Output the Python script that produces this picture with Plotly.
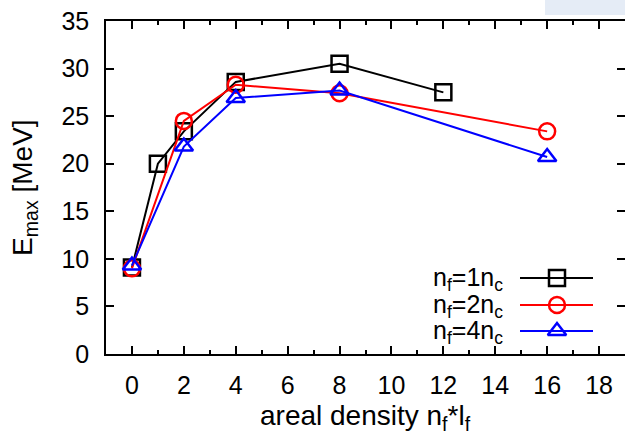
import plotly.graph_objects as go

# ---- data ----
series_names = ["n<sub>f</sub>=1n<sub>c</sub>", "n<sub>f</sub>=2n<sub>c</sub>", "n<sub>f</sub>=4n<sub>c</sub>"]
x_nf1 = [0, 1, 2, 4, 8, 12]
y_nf1 = [9.1, 20.0, 23.4, 28.6, 30.5, 27.5]
x_nf2 = [0, 2, 4, 8, 16]
y_nf2 = [9.0, 24.5, 28.3, 27.4, 23.4]
x_nf4 = [0, 2, 4, 8, 16]
y_nf4 = [9.3, 21.8, 26.9, 27.7, 20.7]
x_ticks = [0, 2, 4, 6, 8, 10, 12, 14, 16, 18]
y_ticks = [0, 5, 10, 15, 20, 25, 30, 35]

colors = ["#000000", "#ff0000", "#0000ff"]
symbols = ["square-open", "circle-open", "triangle-up-open"]
sizes = [16, 16, 16]

FONT = "Liberation Sans, Arial, sans-serif"
W, H = 625, 436
ML, MR, MT, MB = 106, 0, 21, 82
PW, PH = W - ML - MR, H - MT - MB


def px_to_paper_x(px):
    return (px - ML) / PW


def px_to_paper_y(py):
    return (H - MB - py) / PH


fig = go.Figure()
data = [(x_nf1, y_nf1), (x_nf2, y_nf2), (x_nf4, y_nf4)]
for (xs, ys), c, s, sz, nm in zip(data, colors, symbols, sizes, series_names):
    fig.add_trace(go.Scatter(
        x=xs, y=ys, mode="lines+markers", name=nm, showlegend=False,
        line=dict(color=c, width=2),
        marker=dict(symbol=s, size=sz, color=c, line=dict(color=c, width=2.5)),
    ))

# ---- manual gnuplot-style key (text left, sample right) ----
key_rows_px = [278, 305, 331]
for ypx, c, s, sz, nm in zip(key_rows_px, colors, symbols, sizes, series_names):
    yk = px_to_paper_y(ypx)
    fig.add_trace(go.Scatter(
        x=[px_to_paper_x(520), px_to_paper_x(593)], y=[yk, yk], mode="lines",
        xaxis="x2", yaxis="y2",
        line=dict(color=c, width=2), showlegend=False, hoverinfo="skip"))
    fig.add_trace(go.Scatter(
        x=[px_to_paper_x(557)], y=[yk], mode="markers", xaxis="x2", yaxis="y2",
        marker=dict(symbol=s, size=sz, color=c, line=dict(color=c, width=2.5)),
        showlegend=False, hoverinfo="skip"))
    fig.add_annotation(x=px_to_paper_x(505), y=px_to_paper_y(ypx + 1), xref="paper", yref="paper",
                       text=nm, showarrow=False, xanchor="right", yanchor="middle",
                       font=dict(family=FONT, size=25, color="black"))

# axis titles as annotations
fig.add_annotation(x=0.5, y=px_to_paper_y(417), xref="paper", yref="paper",
                   text="areal density n<sub>f</sub>*l<sub>f</sub>", showarrow=False,
                   xanchor="center", yanchor="middle",
                   font=dict(family=FONT, size=28, color="black"))
fig.add_annotation(x=px_to_paper_x(24), y=px_to_paper_y(188), xref="paper", yref="paper",
                   text="E<sub>max</sub> [MeV]", showarrow=False, textangle=-90,
                   xanchor="center", yanchor="middle",
                   font=dict(family=FONT, size=28, color="black"))

axis_common = dict(
    showline=True, linecolor="black", linewidth=1.5, mirror="ticks",
    ticks="inside", ticklen=8, tickwidth=1.5, tickcolor="black",
    showgrid=False, zeroline=False, automargin=False,
    tickfont=dict(family=FONT, size=25, color="black"),
)

fig.update_layout(
    width=W, height=H,
    margin=dict(l=ML, r=MR, t=MT, b=MB, pad=0),
    paper_bgcolor="white", plot_bgcolor="white",
    font=dict(family=FONT, color="black"),
    xaxis=dict(
        range=[-1, 19], tickmode="array", tickvals=x_ticks, ticklabelstandoff=8,
        minor=dict(dtick=1, ticks="inside", ticklen=4, tickwidth=1.5, tickcolor="black", showgrid=False),
        **axis_common,
    ),
    yaxis=dict(
        range=[0, 35], tickmode="array", tickvals=y_ticks, ticklabelstandoff=10,
        **axis_common,
    ),
    xaxis2=dict(overlaying="x", range=[0, 1], visible=False),
    yaxis2=dict(overlaying="y", range=[0, 1], visible=False),
)

# faint bluish artifact at the top-right corner of the reference
fig.add_shape(type="rect", xref="paper", yref="paper",
              x0=px_to_paper_x(545), x1=1.0,
              y0=px_to_paper_y(15), y1=px_to_paper_y(0),
              fillcolor="rgba(222,231,244,0.8)", line=dict(width=0), layer="below")

fig.write_html(
    "out.html",
    config={"displayModeBar": False},
    post_script="document.body.style.margin='0';document.body.style.padding='0';"
                "document.body.style.overflow='hidden';",
)
